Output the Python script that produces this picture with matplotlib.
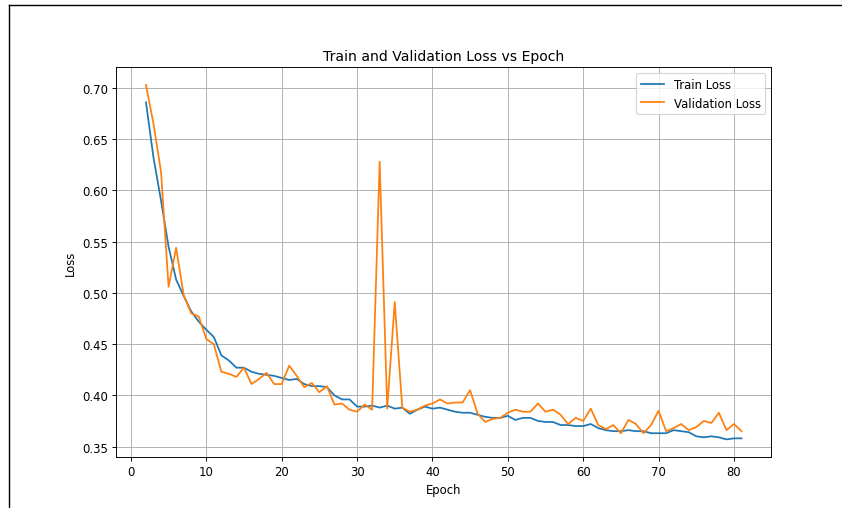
import matplotlib.pyplot as plt
from matplotlib.lines import Line2D

epochs = list(range(2, 82))

train_loss = [
    0.686, 0.632, 0.590, 0.545, 0.513, 0.497, 0.482, 0.472, 0.464, 0.457,
    0.439, 0.434, 0.427, 0.427, 0.423, 0.421, 0.420, 0.419, 0.417, 0.415,
    0.416, 0.411, 0.409, 0.409, 0.408, 0.400, 0.396, 0.396, 0.389, 0.389,
    0.390, 0.388, 0.390, 0.387, 0.388, 0.382, 0.386, 0.389, 0.387, 0.388,
    0.386, 0.384, 0.383, 0.383, 0.381, 0.379, 0.378, 0.378, 0.380, 0.376,
    0.378, 0.378, 0.375, 0.374, 0.374, 0.371, 0.371, 0.370, 0.370, 0.372,
    0.368, 0.366, 0.365, 0.365, 0.366, 0.365, 0.365, 0.363, 0.363, 0.363,
    0.366, 0.365, 0.364, 0.360, 0.359, 0.360, 0.359, 0.357, 0.358, 0.358,
]

val_loss = [
    0.703, 0.665, 0.618, 0.506, 0.544, 0.498, 0.480, 0.477, 0.455, 0.450,
    0.423, 0.421, 0.418, 0.427, 0.411, 0.416, 0.422, 0.411, 0.411, 0.429,
    0.419, 0.408, 0.412, 0.403, 0.409, 0.391, 0.392, 0.386, 0.384, 0.391,
    0.386, 0.628, 0.387, 0.491, 0.388, 0.384, 0.386, 0.390, 0.392, 0.396,
    0.392, 0.393, 0.393, 0.405, 0.382, 0.374, 0.377, 0.378, 0.383, 0.386,
    0.384, 0.384, 0.392, 0.384, 0.386, 0.381, 0.372, 0.378, 0.375, 0.387,
    0.371, 0.367, 0.371, 0.363, 0.376, 0.372, 0.363, 0.371, 0.385, 0.365,
    0.368, 0.372, 0.366, 0.369, 0.375, 0.373, 0.383, 0.366, 0.372, 0.365,
]

fig = plt.figure(figsize=(10, 6.045), dpi=84.2)
ax = fig.add_axes([0.138, 0.100, 0.778, 0.766])

ax.plot(epochs, train_loss, label='Train Loss')
ax.plot(epochs, val_loss, label='Validation Loss')
ax.set_title('Train and Validation Loss vs Epoch')
ax.set_xlabel('Epoch')
ax.set_ylabel('Loss')
ax.legend()
ax.grid(True)

# frame edge along top and left of the canvas
fig.add_artist(Line2D([9 / 842, 9 / 842], [0, 1 - 6 / 509], color='black', linewidth=1.2))
fig.add_artist(Line2D([9 / 842, 1], [1 - 6 / 509, 1 - 6 / 509], color='black', linewidth=1.2))

fig.savefig('out.png', dpi=84.2)
